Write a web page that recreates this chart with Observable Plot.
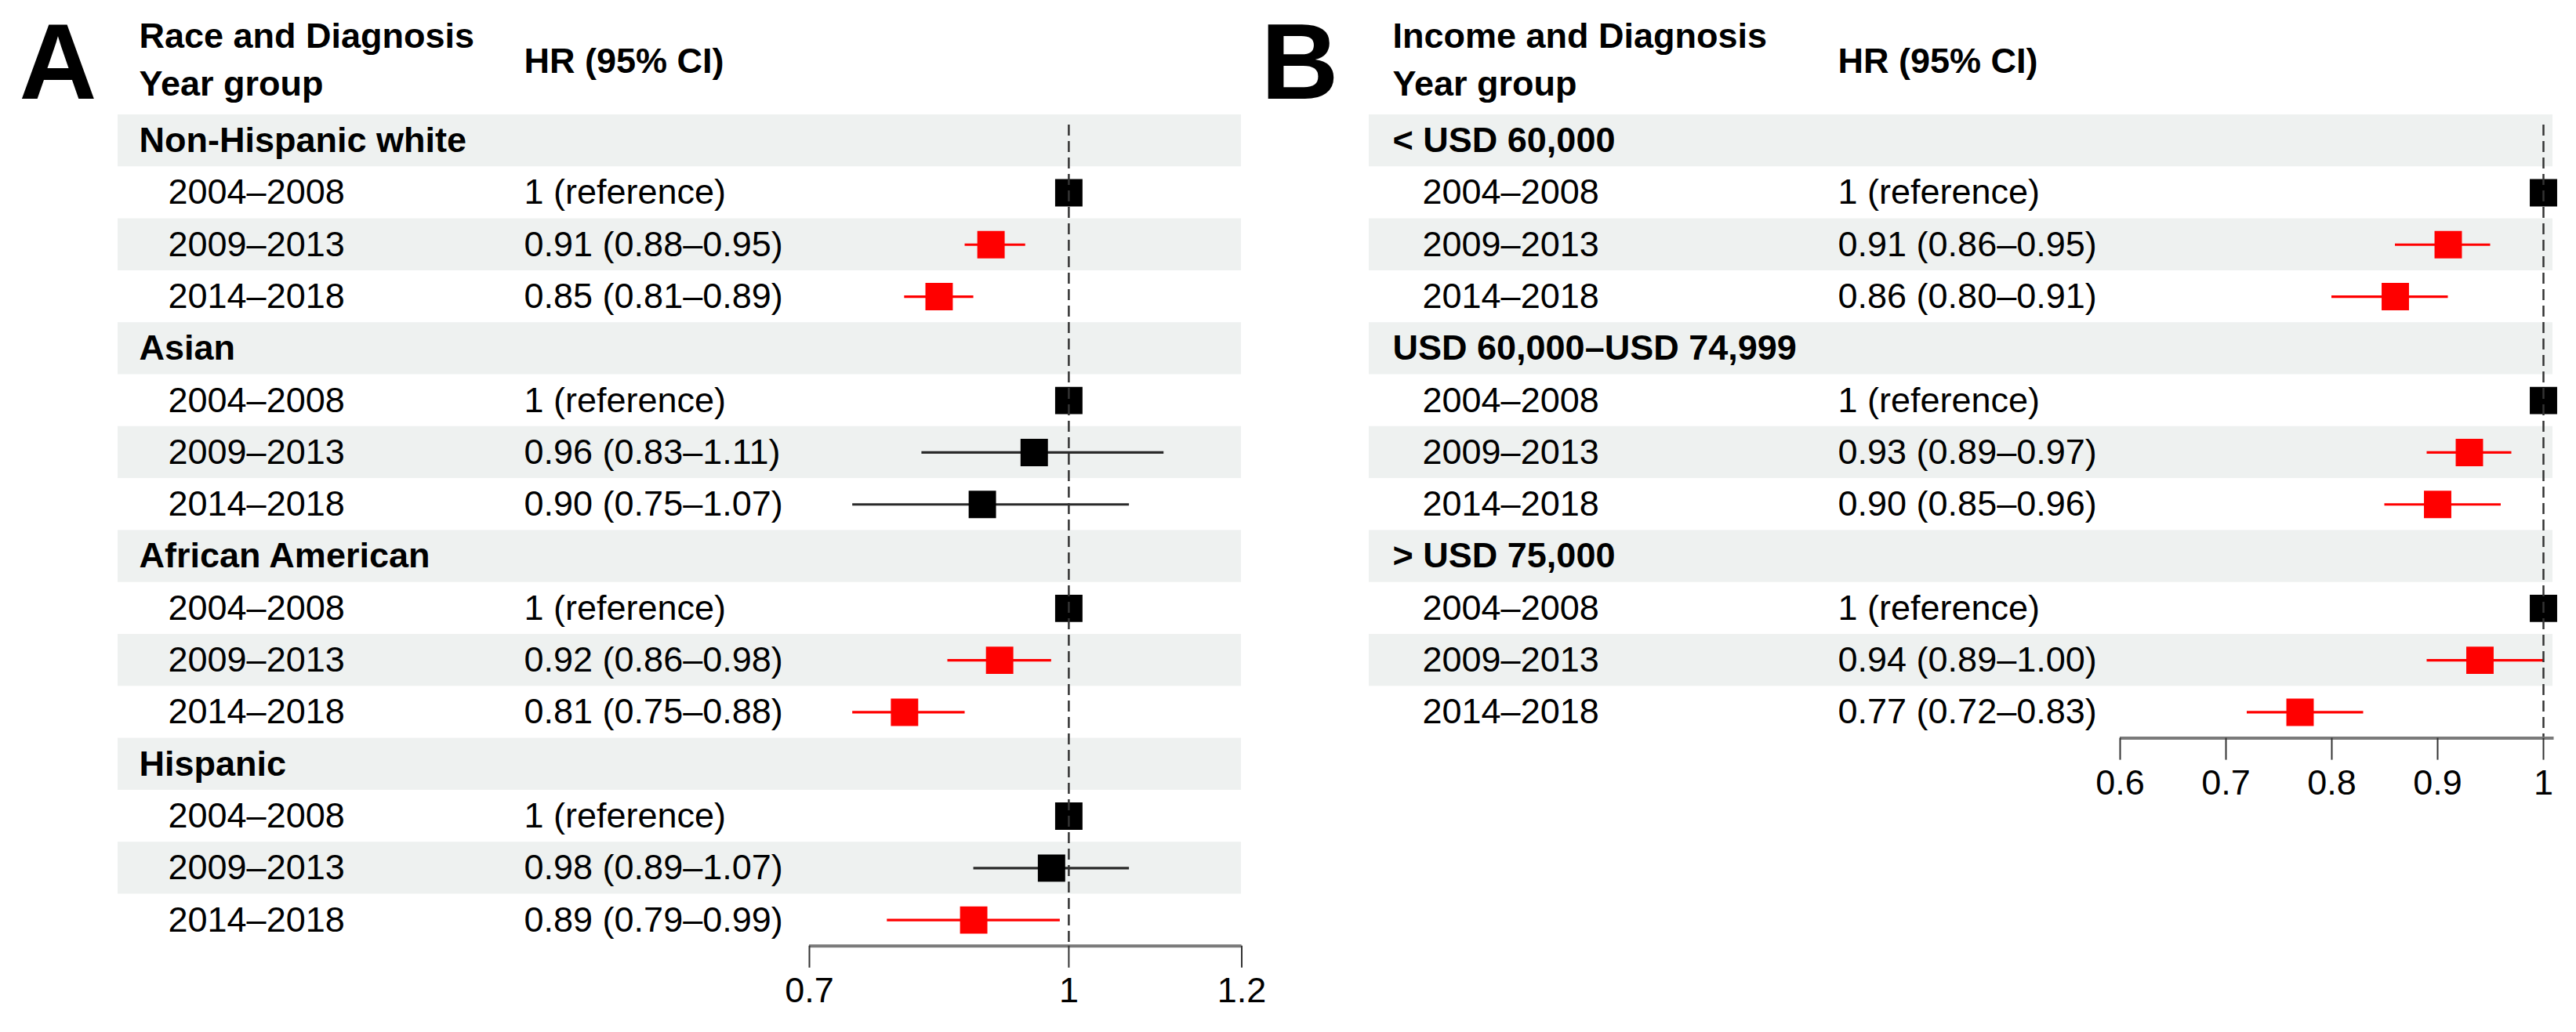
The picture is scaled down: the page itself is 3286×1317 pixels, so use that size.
<!DOCTYPE html>
<html>
<head>
<meta charset="utf-8">
<script src="https://cdn.jsdelivr.net/npm/d3@7"></script>
<script src="https://cdn.jsdelivr.net/npm/@observablehq/plot@0.6"></script>
<style>
  html, body { margin: 0; padding: 0; background: #fff; }
  #wrap { position: relative; width: 3286px; height: 1317px; overflow: hidden; background: #fff; }
  #panelA { position: absolute; left: 0; top: 0; }
  #panelB { position: absolute; left: 1600px; top: 0; }
</style>
</head>
<body>
<div id="wrap"><div id="panelA"></div><div id="panelB"></div></div>
<script>
// ---------- data ----------
const periods = ["2004–2008", "2009–2013", "2014–2018"];

// Panel A: race
const groupsA = ["Non-Hispanic white", "Asian", "African American", "Hispanic"];
const hrA  = [1, 0.91, 0.85, 1, 0.96, 0.90, 1, 0.92, 0.81, 1, 0.98, 0.89];
const loA  = [1, 0.88, 0.81, 1, 0.83, 0.75, 1, 0.86, 0.75, 1, 0.89, 0.79];
const hiA  = [1, 0.95, 0.89, 1, 1.11, 1.07, 1, 0.98, 0.88, 1, 1.07, 0.99];
const sigA = [false, true, true, false, false, false, false, true, true, false, false, true];
const hrTextA = [
  "1 (reference)", "0.91 (0.88–0.95)", "0.85 (0.81–0.89)",
  "1 (reference)", "0.96 (0.83–1.11)", "0.90 (0.75–1.07)",
  "1 (reference)", "0.92 (0.86–0.98)", "0.81 (0.75–0.88)",
  "1 (reference)", "0.98 (0.89–1.07)", "0.89 (0.79–0.99)"
];
const ticksA = [0.7, 1, 1.2];
const tickLabelsA = ["0.7", "1", "1.2"];
const domainA = [0.7, 1.2];

// Panel B: income
const groupsB = ["< USD 60,000", "USD 60,000–USD 74,999", "> USD 75,000"];
const hrB  = [1, 0.91, 0.86, 1, 0.93, 0.90, 1, 0.94, 0.77];
const loB  = [1, 0.86, 0.80, 1, 0.89, 0.85, 1, 0.89, 0.72];
const hiB  = [1, 0.95, 0.91, 1, 0.97, 0.96, 1, 1.00, 0.83];
const sigB = [false, true, true, false, true, true, false, true, true];
const hrTextB = [
  "1 (reference)", "0.91 (0.86–0.95)", "0.86 (0.80–0.91)",
  "1 (reference)", "0.93 (0.89–0.97)", "0.90 (0.85–0.96)",
  "1 (reference)", "0.94 (0.89–1.00)", "0.77 (0.72–0.83)"
];
const ticksB = [0.6, 0.7, 0.8, 0.9, 1];
const tickLabelsB = ["0.6", "0.7", "0.8", "0.9", "1"];
const domainB = [0.6, 1.01];

// ---------- build rows ----------
function buildRows(groups, hr, lo, hi, sig, txt) {
  const rows = [];
  let k = 0;
  groups.forEach(g => {
    rows.push({i: rows.length, kind: "group", label: g});
    periods.forEach(p => {
      rows.push({i: rows.length, kind: "item", label: p, hr: hr[k], lo: lo[k], hi: hi[k], sig: sig[k], text: txt[k]});
      k++;
    });
  });
  return rows;
}

const FONT = "'Liberation Sans', Arial, Helvetica, sans-serif";
const ROW_H = 66.3;

function panel(o) {
  const rows = o.rows;
  const n = rows.length;
  const top = 146;
  const bottom = top + n * ROW_H;
  const items = rows.filter(r => r.kind === "item");
  const groupsR = rows.filter(r => r.kind === "group");
  const cis = items.filter(r => r.lo !== r.hi);
  const colorOf = r => r.sig ? "#ff0000" : "#000000";
  const lineColorOf = r => r.sig ? "#ff0000" : "#2a2a2a";
  return Plot.plot({
    width: o.width,
    height: 1317,
    marginTop: top,
    marginBottom: 1317 - bottom,
    marginLeft: o.marginLeft,
    marginRight: o.marginRight,
    style: {fontFamily: FONT, background: "transparent", color: "#000", overflow: "visible"},
    x: {domain: o.domain, range: o.range, axis: null},
    y: {domain: [-0.5, n - 0.5], reverse: true, axis: null},
    marks: [
      // alternating shaded rows
      Plot.barY(rows.filter(r => r.i % 2 === 0), {y1: r => r.i - 0.5, y2: r => r.i + 0.5, fill: "#eef1f0"}),
      // confidence intervals
      Plot.ruleY(cis, {y: "i", x1: "lo", x2: "hi", stroke: lineColorOf, strokeWidth: 3.2}),
      // point estimates
      Plot.dot(items, {x: "hr", y: "i", symbol: "square", r: 19.7, fill: colorOf, stroke: null}),
      // reference line
      Plot.ruleX([1], {stroke: "#333", strokeWidth: 2.5, strokeDasharray: "14,7", insetTop: 13}),
      // axis line
      Plot.ruleY([n - 0.5], {x1: o.domain[0], x2: o.domain[1], stroke: "#7a7a7a", strokeWidth: 4}),
      Plot.axisX({
        ticks: o.ticks,
        tickFormat: d => o.tickLabels[o.ticks.indexOf(d)],
        tickSize: 28, tickPadding: 12, fontSize: 45,
        stroke: "#333", strokeWidth: 2, label: null, anchor: "bottom"
      }),
      // text columns
      Plot.text(groupsR, {y: "i", text: "label", frameAnchor: "left", textAnchor: "start", dx: o.groupDx, fontSize: 45, fontWeight: "bold", fill: "#000"}),
      Plot.text(items, {y: "i", text: "label", frameAnchor: "left", textAnchor: "start", dx: o.yearDx, fontSize: 45, fill: "#000"}),
      Plot.text(items, {y: "i", text: "text", frameAnchor: "left", textAnchor: "start", dx: o.hrDx, fontSize: 45, fill: "#000"}),
      // headers
      Plot.text([o.title1], {text: d => d, frameAnchor: "top-left", textAnchor: "start", lineAnchor: "bottom", dx: o.groupDx, dy: -86, fontSize: 45, fontWeight: "bold", fill: "#000"}),
      Plot.text(["Year group"], {text: d => d, frameAnchor: "top-left", textAnchor: "start", lineAnchor: "bottom", dx: o.groupDx, dy: -25, fontSize: 45, fontWeight: "bold", fill: "#000"}),
      Plot.text(["HR (95% CI)"], {text: d => d, frameAnchor: "top-left", textAnchor: "start", lineAnchor: "bottom", dx: o.hrDx, dy: -54, fontSize: 45, fontWeight: "bold", fill: "#000"}),
      // panel letter
      Plot.text([o.letter], {text: d => d, frameAnchor: "top-left", textAnchor: "start", lineAnchor: "bottom", dx: o.letterDx, dy: -21, fontSize: 137, fontWeight: "bold", fill: "#000"})
    ]
  });
}

const rowsA = buildRows(groupsA, hrA, loA, hiA, sigA, hrTextA);
const rowsB = buildRows(groupsB, hrB, loB, hiB, sigB, hrTextB);

document.getElementById("panelA").appendChild(panel({
  rows: rowsA, letter: "A", title1: "Race and Diagnosis",
  width: 1600, marginLeft: 150, marginRight: 17,
  domain: domainA, range: [1032, 1583.5],
  ticks: ticksA, tickLabels: tickLabelsA,
  groupDx: 27, yearDx: 64, hrDx: 518, letterDx: -126
}));

document.getElementById("panelB").appendChild(panel({
  rows: rowsB, letter: "B", title1: "Income and Diagnosis",
  width: 1686, marginLeft: 146, marginRight: 30,
  domain: domainB, range: [1104, 1104 + 0.41 * 1350],
  ticks: ticksB, tickLabels: tickLabelsB,
  groupDx: 30, yearDx: 68, hrDx: 598, letterDx: -138
}));
</script>
</body>
</html>
